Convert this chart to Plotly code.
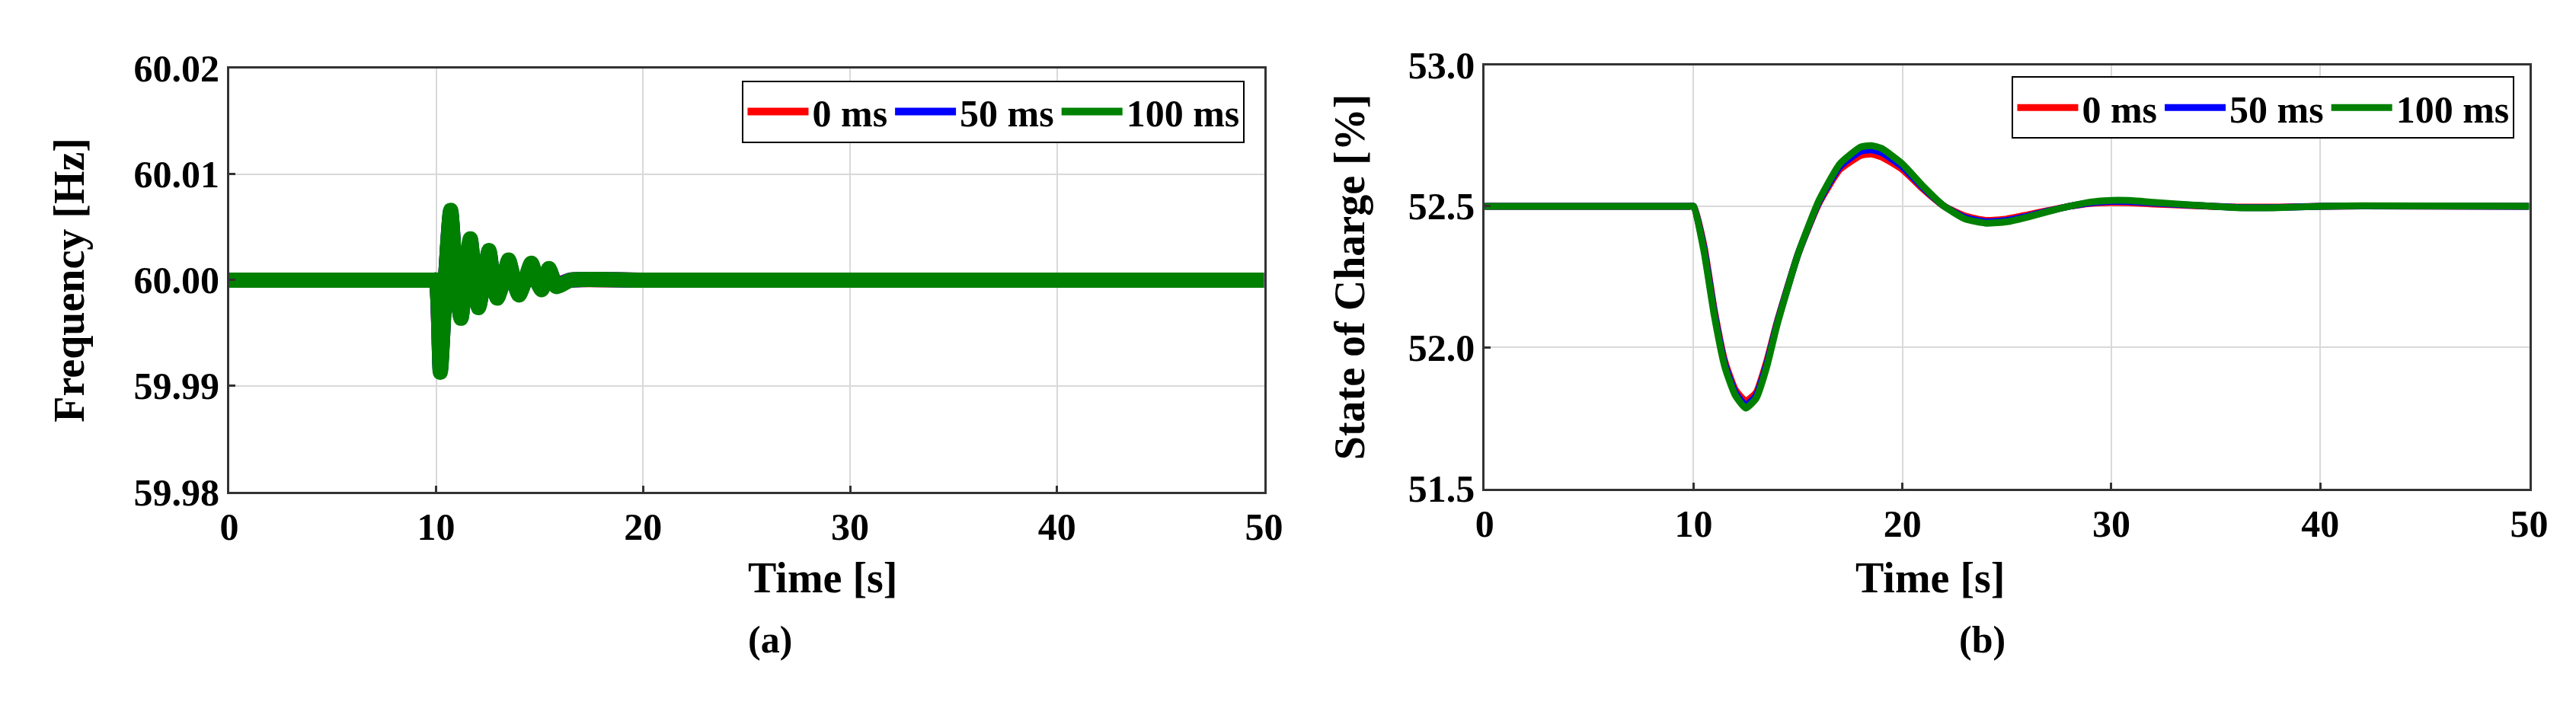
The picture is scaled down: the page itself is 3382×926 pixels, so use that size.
import plotly.graph_objects as go

# ---- data ----
t_freq = [0, 9.9, 10.0, 10.2, 10.45, 10.7, 10.95, 11.2, 11.4, 11.65, 11.85, 12.05, 12.3, 12.55, 12.75, 12.95,
          13.25, 13.5, 13.75, 14.0, 14.3, 14.6, 14.85, 15.1, 15.45, 15.8, 16.5, 20, 50]
f_0ms = [60.0, 60.0, 60.0, 59.9918, 60.0, 60.0063, 60.0, 59.9967, 60.0, 60.0037, 60.0, 59.9977, 60.0, 60.0026, 60.0, 59.9985,
         60.0, 60.0017, 60.0, 59.999, 60.0, 60.0013, 60.0, 59.9994, 60.0009, 59.9996, 60.0, 60.0, 60.0]
f_50ms = [60.0, 60.0, 60.0, 59.9915, 60.0, 60.0065, 60.0, 59.9965, 60.0, 60.0038, 60.0, 59.9975, 60.0, 60.0027, 60.0, 59.9984,
          60.0, 60.0018, 60.0, 59.9987, 60.0, 60.0015, 60.0, 59.9992, 60.001, 59.9995, 60.0, 60.0, 60.0]
f_100ms = [60.0, 60.0, 60.0, 59.9913, 60.0, 60.0066, 60.0, 59.9964, 60.0, 60.0039, 60.0, 59.9974, 60.0, 60.0028, 60.0, 59.9983,
           60.0, 60.0019, 60.0, 59.9986, 60.0, 60.0016, 60.0, 59.9991, 60.0011, 59.9994, 60.0, 60.0, 60.0]

t_soc = [0, 9, 9.8, 10, 10.5, 11, 11.5, 12, 12.5, 13, 13.5, 14, 15, 16, 17, 18, 18.5, 19, 20, 21, 22, 23, 24, 25,
         26, 27, 28, 29, 30, 31, 32, 34, 36, 38, 40, 42, 50]
soc_0ms = [52.5, 52.5, 52.5, 52.5, 52.36, 52.13, 51.95, 51.85, 51.81, 51.84, 51.95, 52.09, 52.33, 52.51, 52.63, 52.68, 52.685,
           52.675, 52.63, 52.56, 52.5, 52.465, 52.45, 52.455, 52.47, 52.485, 52.5, 52.51, 52.513, 52.512, 52.508,
           52.502, 52.497, 52.497, 52.5, 52.501, 52.5]
soc_50ms = [52.5, 52.5, 52.5, 52.5, 52.35, 52.12, 51.94, 51.84, 51.795, 51.83, 51.94, 52.085, 52.33, 52.515, 52.64, 52.695, 52.70,
            52.69, 52.64, 52.565, 52.5, 52.46, 52.445, 52.45, 52.465, 52.483, 52.5, 52.512, 52.517, 52.516, 52.511,
            52.503, 52.496, 52.496, 52.5, 52.501, 52.5]
soc_100ms = [52.5, 52.5, 52.5, 52.5, 52.34, 52.11, 51.93, 51.83, 51.785, 51.82, 51.93, 52.08, 52.33, 52.52, 52.65, 52.71, 52.715,
             52.705, 52.65, 52.57, 52.5, 52.455, 52.44, 52.445, 52.462, 52.482, 52.5, 52.515, 52.521, 52.52, 52.514,
             52.504, 52.495, 52.495, 52.5, 52.502, 52.5]

names = ["0 ms", "50 ms", "100 ms"]
colors = ["#ff0000", "#0000ff", "#008000"]
x_ticks = [0, 10, 20, 30, 40, 50]
freq_ticks = [59.98, 59.99, 60.00, 60.01, 60.02]
soc_ticks = [51.5, 52.0, 52.5, 53.0]

FONT = "Liberation Serif"
fig = go.Figure()
for n, c, y in zip(names, colors, [f_0ms, f_50ms, f_100ms]):
    fig.add_trace(go.Scatter(x=t_freq, y=y, mode="lines", name=n,
                             line=dict(color=c, width=20, shape="spline", smoothing=0.6),
                             xaxis="x", yaxis="y", legend="legend"))
for n, c, y in zip(names, colors, [soc_0ms, soc_50ms, soc_100ms]):
    fig.add_trace(go.Scatter(x=t_soc, y=y, mode="lines", name=n,
                             line=dict(color=c, width=9, shape="spline", smoothing=0.5),
                             xaxis="x2", yaxis="y2", legend="legend2"))

ax = dict(showline=True, linecolor="#333333", linewidth=3, mirror=True, ticks="inside", ticklen=8,
          tickwidth=3, tickcolor="#333333", showgrid=True, gridcolor="#d9d9d9", gridwidth=2, zeroline=False,
          tickfont=dict(family=FONT, size=50, color="black", weight="bold"))
leg = dict(orientation="h", xanchor="right", yanchor="top", bgcolor="white", bordercolor="black",
           borderwidth=2, font=dict(family=FONT, size=50, color="black", weight="bold"), itemwidth=80, tracegroupgap=0)

fig.update_layout(
    width=3382, height=926, margin=dict(l=0, r=0, t=0, b=0),
    paper_bgcolor="white", plot_bgcolor="white",
    xaxis=dict(ax, domain=[0.0837, 0.490], range=[0, 50], tickvals=x_ticks, anchor="y"),
    yaxis=dict(ax, domain=[0.298, 0.938], range=[59.98, 60.02], tickvals=freq_ticks, tickformat=".2f", anchor="x"),
    xaxis2=dict(ax, domain=[0.5766, 0.9867], range=[0, 50], tickvals=x_ticks, anchor="y2"),
    yaxis2=dict(ax, domain=[0.303, 0.943], range=[51.5, 53.0], tickvals=soc_ticks, tickformat=".1f", anchor="x2"),
    legend=dict(leg, x=0.4825, y=0.92),
    legend2=dict(leg, x=0.981, y=0.926),
    showlegend=True,
)

def ann(text, x, y, size, angle=0):
    fig.add_annotation(text=text, x=x, y=y, xref="paper", yref="paper", showarrow=False, textangle=angle,
                       font=dict(family=FONT, size=size, color="black"))

ann("<b>Time [s]</b>", 0.2867, 0.13, 56)
ann("<b>(a)</b>", 0.2867, 0.04, 50)
ann("<b>Frequency [Hz]</b>", 0.011, 0.618, 56, -90)
ann("<b>Time [s]</b>", 0.7816, 0.13, 56)
ann("<b>(b)</b>", 0.7816, 0.04, 50)
ann("<b>State of Charge [%]</b>", 0.5235, 0.623, 56, -90)

fig.write_html("out.html")
